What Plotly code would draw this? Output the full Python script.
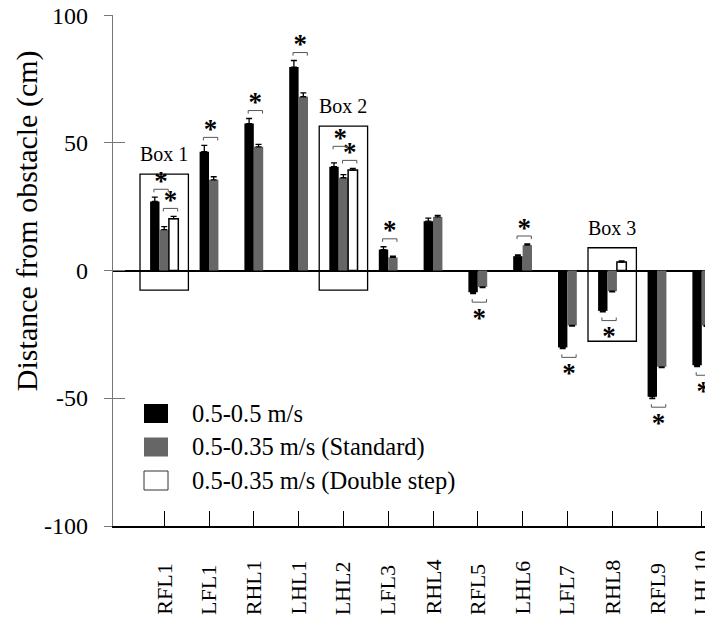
import numpy as np
import plotly.graph_objects as go

# ---------------- data ----------------
CATEGORIES = ["RFL1", "LFL1", "RHL1", "LHL1", "LHL2", "LFL3", "RHL4",
              "RFL5", "LHL6", "LFL7", "RHL8", "RFL9", "LHL10"]
SERIES_NAMES = ["0.5-0.5 m/s", "0.5-0.35 m/s (Standard)", "0.5-0.35 m/s (Double step)"]

FAST = [27.0, 46.5, 57.5, 79.6, 40.6, 8.2, 19.3, -8.5, 5.6, -30.1, -15.8, -49.4, -37.1]
FAST_ERR = [1.7, 2.5, 2.0, 2.6, 1.5, 1.1, 1.2, 0.5, 0.5, 0.5, 0.4, 0.7, 0.5]
STANDARD = [16.0, 35.5, 48.4, 68.0, 36.3, 5.1, 21.0, -6.4, 9.9, -21.5, -8.1, -37.7, -21.5]
STANDARD_ERR = [1.2, 1.2, 1.0, 1.5, 1.2, 0.5, 0.6, 0.3, 0.5, 0.3, 0.3, 0.3, 0.4]
DOUBLE = [20.3, None, None, None, 39.3, None, None, None, None, None, 3.3, None, None]
DOUBLE_ERR = [0.9, None, None, None, 0.7, None, None, None, None, None, 0.5, None, None]

# significant differences: (category, pair) pair 0 = fast vs standard, 1 = standard vs double
SIGNIFICANT = [("RFL1", 0), ("RFL1", 1), ("LFL1", 0), ("RHL1", 0), ("LHL1", 0),
               ("LHL2", 0), ("LHL2", 1), ("LFL3", 0), ("RFL5", 0), ("LHL6", 0),
               ("LFL7", 0), ("RHL8", 0), ("RFL9", 0), ("LHL10", 0)]

# highlighted boxes: (label, category, top, bottom) in cm
BOXES = [("Box 1", "RFL1", 37.7, -7.7), ("Box 2", "LHL2", 56.5, -7.7), ("Box 3", "RHL8", 8.9, -27.7)]

Y_TICKS = [-100, -50, 0, 50, 100]
Y_TICK_TEXT = ["-100", "-50", "0", "50", "100"]

# ---------------- style ----------------
FONT = "Liberation Serif, Times New Roman, serif"
COLORS = ["#000000", "#666666", "#ffffff"]
W = 0.21            # bar width (x units)
GAP = 3.1           # bracket gap above error bar (cm)
LEG = 1.2           # bracket leg length (cm)

n = len(CATEGORIES)
idx = np.arange(n)
has3 = [d is not None for d in DOUBLE]
series = [FAST, STANDARD, DOUBLE]
errs = [FAST_ERR, STANDARD_ERR, DOUBLE_ERR]


def bar_center(i, s):
    if has3[i]:
        return i + (s - 1) * W
    return i + (s - 0.5) * W


fig = go.Figure()

for s in range(3):
    vals = series[s]
    er = errs[s]
    offs = [bar_center(i, s) - W / 2 - i for i in range(n)]
    plus = [None if v is None else (e if v >= 0 else 0) for v, e in zip(vals, er)]
    minus = [None if v is None else (0 if v >= 0 else e) for v, e in zip(vals, er)]
    fig.add_trace(go.Bar(
        x=idx, y=vals, width=[W] * n, offset=offs,
        marker=dict(color=COLORS[s],
                    line=dict(color="black", width=1.5 if s == 2 else 0)),
        error_y=dict(type="data", symmetric=False, array=plus, arrayminus=minus,
                     color="black", thickness=1.3, width=3),
        name=SERIES_NAMES[s], showlegend=False, hoverinfo="skip"))

# dummy trace for crossing y ticks
fig.add_trace(go.Scatter(x=[None], y=[None], yaxis="y2", showlegend=False, hoverinfo="skip"))

shapes = []
annotations = []

# significance brackets and asterisks
bracket_y = {}
ordered = sorted(SIGNIFICANT, key=lambda t: -t[1])
star_x, star_y = [], []
for cat, pair in ordered:
    i = CATEGORIES.index(cat)
    v1, v2 = series[pair][i], series[pair + 1][i]
    e1, e2 = errs[pair][i], errs[pair + 1][i]
    x0 = bar_center(i, pair) - 0.02
    x1 = bar_center(i, pair + 1) + 0.09
    if v1 >= 0:
        yb = max(v1 + e1, v2 + e2) + GAP
        if (cat, pair + 1) in bracket_y:
            yb = max(yb, bracket_y[(cat, pair + 1)] + 5.5)
        leg = yb - LEG
        sy = yb + 2.4
    else:
        yb = min(v1 - e1, v2 - e2) - GAP - 0.3
        leg = yb + LEG
        sy = yb - 7.0
    bracket_y[(cat, pair)] = yb
    shapes.append(dict(type="path", xref="x", yref="y",
                       path=f"M{x0},{leg} L{x0},{yb} L{x1},{yb} L{x1},{leg}",
                       line=dict(color="#555555", width=1)))
    star_x.append((x0 + x1) / 2)
    star_y.append(sy)

fig.add_trace(go.Scatter(x=star_x, y=star_y, mode="text", text=["<b>*</b>"] * len(star_x),
                         textposition="middle center",
                         textfont=dict(family=FONT, size=27, color="black"),
                         showlegend=False, hoverinfo="skip"))

# boxes
for label, cat, top, bot in BOXES:
    i = CATEGORIES.index(cat)
    shapes.append(dict(type="rect", xref="x", yref="y", x0=i - 0.54, x1=i + 0.54,
                       y0=bot, y1=top, line=dict(color="black", width=1.3)))
    annotations.append(dict(x=i, y=top, xref="x", yref="y", text=label, showarrow=False,
                            xanchor="center", yanchor="bottom", yshift=7,
                            font=dict(family=FONT, size=20, color="black")))

# category labels (rotated, bottom aligned)
for i, cat in enumerate(CATEGORIES):
    annotations.append(dict(x=i, y=-0.178, xref="x", yref="paper", text=cat, showarrow=False,
                            textangle=-90, xanchor="center", yanchor="bottom",
                            font=dict(family=FONT, size=22, color="black")))

# y tick labels
for v, t in zip(Y_TICKS, Y_TICK_TEXT):
    annotations.append(dict(x=-0.0383, y=v, xref="paper", yref="y", text=t, showarrow=False,
                            xanchor="right", yanchor="middle", yshift=-1 if v == 100 else 0,
                            font=dict(family=FONT, size=24, color="black")))

# y axis title
annotations.append(dict(x=-0.143, y=0.597, xref="paper", yref="paper",
                        text="Distance from obstacle (cm)", showarrow=False, textangle=-90,
                        xanchor="center", yanchor="middle",
                        font=dict(family=FONT, size=30, color="black")))

# manual legend
for s in range(3):
    yc = (526 - (413.5 + 33.5 * s)) / 511
    hh = 9.5 / 511
    shapes.append(dict(type="rect", xref="paper", yref="paper",
                       x0=(144 - 113) / 600, x1=(168 - 113) / 600, y0=yc - hh, y1=yc + hh,
                       fillcolor=COLORS[s], line=dict(color="#333333", width=1 if s == 2 else 0)))
    annotations.append(dict(x=(190 - 113) / 600, y=yc, xref="paper", yref="paper",
                            text=SERIES_NAMES[s], showarrow=False, xanchor="left",
                            yanchor="middle", font=dict(family=FONT, size=24.5, color="black")))

# the page body adds an 8px margin, so the figure is 8px smaller and shifted accordingly
fig.update_layout(
    width=705, height=615,
    margin=dict(l=105, r=0, t=7, b=97, autoexpand=False),
    paper_bgcolor="white", plot_bgcolor="white",
    barmode="overlay",
    font=dict(family=FONT, color="black"),
    xaxis=dict(range=[-1.143, 12.25], tickvals=list(idx), ticktext=[""] * n,
               ticks="inside", ticklen=15, tickwidth=1.3, tickcolor="black",
               showline=True, linecolor="black", linewidth=1.5, automargin=False,
               showgrid=False, zeroline=False, fixedrange=True),
    yaxis=dict(range=[-100, 100], tickvals=Y_TICKS, showticklabels=False,
               ticks="outside", ticklen=8,
               tickwidth=1.2, tickcolor="#777777", automargin=False,
               showline=True, linecolor="#777777", linewidth=1.2,
               showgrid=False, zeroline=True, zerolinecolor="black", zerolinewidth=1.5),
    yaxis2=dict(range=[-100, 100], overlaying="y", side="left", tickvals=Y_TICKS,
                ticks="inside", ticklen=12, tickwidth=1.2, tickcolor="#777777",
                showticklabels=False, showline=False, showgrid=False, zeroline=False,
                automargin=False),
    shapes=shapes, annotations=annotations,
)

fig.write_html("out.html")
